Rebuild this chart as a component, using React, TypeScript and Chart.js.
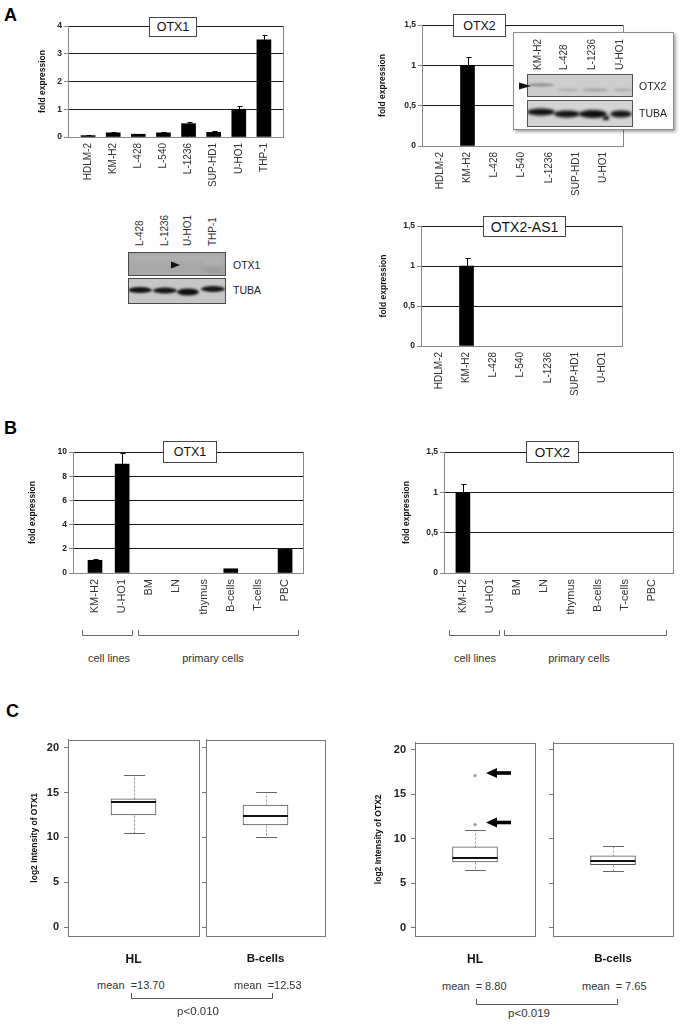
import React, { useEffect, useRef } from 'react';
import { Chart, registerables } from 'chart.js';

Chart.register(...registerables);

const FONT = "'Liberation Sans', Arial, Helvetica, sans-serif";
Chart.defaults.font.family = FONT;

// ---------------- data ----------------
const aOtx1Labels = ['HDLM-2', 'KM-H2', 'L-428', 'L-540', 'L-1236', 'SUP-HD1', 'U-HO1', 'THP-1'];
const aOtx1Values = [0.05, 0.15, 0.1, 0.15, 0.48, 0.17, 1.0, 3.5];
const aOtx1Errors = [0.02, 0.03, 0.02, 0.03, 0.07, 0.03, 0.12, 0.17];
const aOtx1TickValues = [0, 1, 2, 3, 4];
const aOtx1TickLabels = ['0', '1', '2', '3', '4'];

const aOtx2Labels = ['HDLM-2', 'KM-H2', 'L-428', 'L-540', 'L-1236', 'SUP-HD1', 'U-HO1'];
const aOtx2Values = [0, 1.0, 0, 0, 0, 0, 0];
const aOtx2Errors = [0, 0.1, 0, 0, 0, 0, 0];
const aAs1Values = [0, 1.0, 0, 0, 0, 0, 0];
const aAs1Errors = [0, 0.1, 0, 0, 0, 0, 0];
const halfTickValues = [0, 0.5, 1, 1.5];
const halfTickLabels = ['0', '0,5', '1', '1,5'];

const bLabels = ['KM-H2', 'U-HO1', 'BM', 'LN', 'thymus', 'B-cells', 'T-cells', 'PBC'];
const bOtx1Values = [1.05, 9.0, 0, 0, 0, 0.35, 0, 1.95];
const bOtx1Errors = [0.12, 0.9, 0, 0, 0, 0, 0, 0.05];
const bOtx1TickValues = [0, 2, 4, 6, 8, 10];
const bOtx1TickLabels = ['0', '2', '4', '6', '8', '10'];
const bOtx2Values = [1.0, 0, 0, 0, 0, 0, 0, 0];
const bOtx2Errors = [0.1, 0, 0, 0, 0, 0, 0, 0];

const boxTickValues = [0, 5, 10, 15, 20];
const boxTickLabels = ['0', '5', '10', '15', '20'];
// [lower whisker, Q1, median, Q3, upper whisker]
const cOtx1HL = [10.5, 12.5, 13.9, 14.3, 16.9];
const cOtx1B = [10.0, 11.4, 12.4, 13.6, 15.1];
const cOtx2HL = [6.5, 7.4, 7.9, 9.1, 11.0];
const cOtx2HLOutliers = [11.6, 17.1];
const cOtx2B = [6.35, 7.1, 7.55, 8.1, 9.2];

const blotOtx1Lanes = ['L-428', 'L-1236', 'U-HO1', 'THP-1'];
const blotOtx2Lanes = ['KM-H2', 'L-428', 'L-1236', 'U-HO1'];

// ---------------- helpers ----------------
type Area = { l: number; t: number; r: number; b: number };
type Geo = { left: number; top: number; width: number; height: number; yAxisW: number; padTop: number; padRight: number; xAxisH: number };

function makeGeo(area: Area, left: number, xAxisH: number, padTop = 10, padRight = 8): Geo {
  const top = area.t - padTop;
  return { left, top, width: area.r + padRight - left, height: area.b + xAxisH - top, yAxisW: area.l - left, padTop, padRight, xAxisH };
}

const errorBarPlugin = (values: number[], errors: number[]) => ({
  id: 'errorBars',
  afterDatasetsDraw(chart: any) {
    const xs = chart.scales.x;
    const ys = chart.scales.y;
    const ctx = chart.ctx;
    ctx.save();
    ctx.strokeStyle = '#000';
    ctx.lineWidth = 1;
    values.forEach((v, i) => {
      const e = errors[i];
      if (!e) return;
      const x = Math.round(xs.getPixelForValue(i)) + 0.5;
      const y0 = ys.getPixelForValue(v);
      const y1 = Math.round(ys.getPixelForValue(v + e)) + 0.5;
      ctx.beginPath();
      ctx.moveTo(x, y0);
      ctx.lineTo(x, y1);
      ctx.moveTo(x - 2, y1);
      ctx.lineTo(x + 3, y1);
      ctx.stroke();
    });
    ctx.restore();
  },
});

const rightEdgePlugin = {
  id: 'rightEdge',
  afterDraw(chart: any) {
    const { ctx, chartArea: a } = chart;
    ctx.save();
    ctx.strokeStyle = '#888';
    ctx.lineWidth = 1;
    const x = Math.round(a.right) + 0.5;
    ctx.beginPath();
    ctx.moveTo(x, a.top);
    ctx.lineTo(x, a.bottom);
    ctx.stroke();
    ctx.restore();
  },
};

const framePlugin = {
  id: 'frame',
  afterDraw(chart: any) {
    const { ctx, chartArea: a } = chart;
    ctx.save();
    ctx.strokeStyle = '#777';
    ctx.lineWidth = 1;
    ctx.strokeRect(Math.round(a.left) + 0.5, Math.round(a.top) + 0.5, Math.round(a.right - a.left), Math.round(a.bottom - a.top));
    ctx.restore();
  },
};

const boxPartsPlugin = (stats: number[]) => ({
  id: 'boxParts',
  afterDatasetsDraw(chart: any) {
    const el: any = chart.getDatasetMeta(0).data[0];
    const ys = chart.scales.y;
    const ctx = chart.ctx;
    const [mn, q1, md, q3, mx] = stats;
    const x = Math.round(el.x) + 0.5;
    const half = el.width / 2;
    const cap = half * 0.47;
    const py = (v: number) => Math.round(ys.getPixelForValue(v)) + 0.5;
    const line = (x1: number, y1: number, x2: number, y2: number) => {
      ctx.beginPath();
      ctx.moveTo(x1, y1);
      ctx.lineTo(x2, y2);
      ctx.stroke();
    };
    ctx.save();
    ctx.lineWidth = 1;
    ctx.strokeStyle = '#8c8c8c';
    ctx.setLineDash([2, 2]);
    line(x, py(q3), x, py(mx));
    line(x, py(q1), x, py(mn));
    ctx.setLineDash([]);
    ctx.strokeStyle = '#666';
    line(x - cap, py(mx), x + cap, py(mx));
    line(x - cap, py(mn), x + cap, py(mn));
    ctx.strokeStyle = '#111';
    ctx.lineWidth = 2;
    const ym = Math.round(ys.getPixelForValue(md));
    line(el.x - half, ym, el.x + half, ym);
    ctx.restore();
  },
});

interface BarSpec {
  labels: string[];
  values: number[];
  errors: number[];
  tickValues: number[];
  tickLabels: string[];
  xMin: number;
  xMax: number;
  labelSize: number;
}

function buildBar(canvas: HTMLCanvasElement, s: BarSpec, g: Geo) {
  // zero-valued samples have no visible bar in the figure
  const data = s.values.map((v, i) => ({ x: i, y: v === 0 ? null : v }));
  return new Chart(canvas, {
    type: 'bar',
    data: { datasets: [{ data, backgroundColor: '#000', borderWidth: 0, barThickness: 14 } as any] },
    options: {
      responsive: false,
      animation: false,
      devicePixelRatio: 1,
      layout: { padding: { left: 0, top: g.padTop, right: g.padRight, bottom: 0 } },
      plugins: { legend: { display: false }, tooltip: { enabled: false }, title: { display: false } },
      scales: {
        x: {
          type: 'linear',
          min: s.xMin,
          max: s.xMax,
          offset: false,
          afterBuildTicks: (sc: any) => {
            sc.ticks = s.labels.map((_, i) => ({ value: i }));
          },
          afterFit: (sc: any) => {
            sc.height = g.xAxisH;
          },
          grid: { display: false, drawTicks: false, offset: false },
          border: { display: true, color: '#888' },
          ticks: {
            autoSkip: false,
            minRotation: 90,
            maxRotation: 90,
            padding: 6,
            color: '#333',
            font: { size: s.labelSize, family: FONT },
            callback: (v: any) => s.labels[v] ?? '',
          },
        } as any,
        y: {
          min: 0,
          max: s.tickValues[s.tickValues.length - 1],
          afterBuildTicks: (sc: any) => {
            sc.ticks = s.tickValues.map((v) => ({ value: v }));
          },
          afterFit: (sc: any) => {
            sc.width = g.yAxisW;
          },
          grid: {
            color: (c: any) => (c.tick && c.tick.value === 0 ? 'rgba(0,0,0,0)' : '#1c1c1c'),
            tickColor: '#888',
            tickLength: 4,
          },
          border: { display: true, color: '#888' },
          ticks: {
            padding: 2,
            color: '#222',
            font: { size: 8.5, weight: 'bold', family: FONT },
            callback: (_v: any, i: number) => s.tickLabels[i],
          },
          title: {
            display: true,
            text: 'fold expression',
            color: '#111',
            font: { size: 8.5, weight: 'bold', family: FONT },
            padding: { top: 2, bottom: 0 },
          },
        } as any,
      },
    },
    plugins: [errorBarPlugin(s.values, s.errors), rightEdgePlugin],
  });
}

interface BoxSpec {
  name: string;
  stats: number[];
  outliers: number[];
  yMin: number;
  yMax: number;
  showLabels: boolean;
  title?: string;
  nameSize: number;
}

function buildBox(canvas: HTMLCanvasElement, s: BoxSpec, g: Geo) {
  return new Chart(canvas, {
    type: 'bar',
    data: {
      labels: [s.name],
      datasets: [
        {
          type: 'bar',
          data: [[s.stats[1], s.stats[3]]],
          backgroundColor: '#fff',
          borderColor: '#555',
          borderWidth: 1,
          borderSkipped: false,
          barThickness: 45,
          order: 2,
        } as any,
        {
          type: 'line',
          data: s.outliers.map((v) => ({ x: s.name, y: v })),
          showLine: false,
          pointRadius: 1.7,
          pointBackgroundColor: '#9a9a9a',
          pointBorderWidth: 0,
          order: 1,
        } as any,
      ],
    },
    options: {
      responsive: false,
      animation: false,
      devicePixelRatio: 1,
      layout: { padding: { left: 0, top: g.padTop, right: g.padRight, bottom: 0 } },
      plugins: { legend: { display: false }, tooltip: { enabled: false }, title: { display: false } },
      scales: {
        x: {
          type: 'category',
          offset: true,
          afterFit: (sc: any) => {
            sc.height = g.xAxisH;
          },
          grid: { display: false, drawTicks: false },
          border: { display: false },
          ticks: { padding: 16, color: '#111', font: { size: s.nameSize, weight: 'bold', family: FONT } },
        } as any,
        y: {
          min: s.yMin,
          max: s.yMax,
          afterBuildTicks: (sc: any) => {
            sc.ticks = boxTickValues.map((v) => ({ value: v }));
          },
          afterFit: (sc: any) => {
            sc.width = g.yAxisW;
          },
          grid: { drawOnChartArea: false, drawTicks: true, tickLength: 4, tickColor: '#777', color: '#777' },
          border: { display: true, color: '#777' },
          ticks: {
            padding: 5,
            color: '#222',
            font: { size: 11, weight: 'bold', family: FONT },
            callback: (_v: any, i: number) => (s.showLabels ? boxTickLabels[i] : ''),
          },
          title: {
            display: !!s.title,
            text: s.title || '',
            color: '#111',
            font: { size: 8.5, weight: 'bold', family: FONT },
            padding: { top: 2, bottom: 0 },
          },
        } as any,
      },
    },
    plugins: [boxPartsPlugin(s.stats), framePlugin],
  });
}

function ChartCanvas({ g, build }: { g: Geo; build: (c: HTMLCanvasElement) => Chart }) {
  const ref = useRef<HTMLCanvasElement>(null);
  useEffect(() => {
    if (!ref.current) return;
    const chart = build(ref.current);
    return () => chart.destroy();
  }, []);
  return (
    <canvas
      ref={ref}
      width={g.width}
      height={g.height}
      style={{ position: 'absolute', left: g.left, top: g.top, width: g.width, height: g.height, zIndex: 0 }}
    />
  );
}

function BlotCanvas({ x, y, w, h, draw }: { x: number; y: number; w: number; h: number; draw: (ctx: CanvasRenderingContext2D) => void }) {
  const ref = useRef<HTMLCanvasElement>(null);
  useEffect(() => {
    const c = ref.current;
    if (!c) return;
    const ctx = c.getContext('2d');
    if (!ctx) return;
    ctx.clearRect(0, 0, w, h);
    draw(ctx);
  }, []);
  return <canvas ref={ref} width={w} height={h} style={{ position: 'absolute', left: x, top: y, width: w, height: h, zIndex: 2 }} />;
}

function band(ctx: CanvasRenderingContext2D, cx: number, cy: number, w: number, h: number, color: string) {
  ctx.fillStyle = color;
  ctx.beginPath();
  ctx.ellipse(cx, cy, w / 2, h / 2, 0, 0, Math.PI * 2);
  ctx.fill();
}

function drawOtx1Blot(ctx: CanvasRenderingContext2D) {
  ctx.fillStyle = '#a8a8a8';
  ctx.fillRect(0, 0, 98, 24);
  ctx.filter = 'blur(2px)';
  ctx.fillStyle = 'rgba(255,255,255,0.10)';
  ctx.fillRect(2, 2, 94, 7);
  band(ctx, 86, 11, 22, 3, 'rgba(255,255,255,0.18)');
  band(ctx, 86, 18, 22, 4, 'rgba(60,60,60,0.18)');
  ctx.filter = 'none';
  ctx.strokeStyle = '#4a4a4a';
  ctx.lineWidth = 1;
  ctx.strokeRect(0.5, 0.5, 97, 23);
  ctx.fillStyle = '#c6c6c6';
  ctx.fillRect(0, 26, 98, 26);
  ctx.filter = 'blur(1.3px)';
  band(ctx, 12, 38, 24, 6, '#121212');
  band(ctx, 37, 38.5, 24, 6, '#151515');
  band(ctx, 60, 40, 22, 7, '#101010');
  band(ctx, 85, 37, 24, 6, '#161616');
  ctx.filter = 'none';
  ctx.strokeRect(0.5, 26.5, 97, 25);
}

function drawOtx2Blot(ctx: CanvasRenderingContext2D) {
  ctx.fillStyle = '#cdcdcd';
  ctx.fillRect(0, 0, 106, 23);
  ctx.filter = 'blur(1.2px)';
  band(ctx, 14, 11, 26, 3, '#8a8a8a');
  band(ctx, 41, 16, 22, 3, '#b0b0b0');
  band(ctx, 68, 16, 26, 3.5, '#a6a6a6');
  band(ctx, 96, 16, 20, 3, '#acacac');
  ctx.filter = 'none';
  ctx.strokeStyle = '#555';
  ctx.lineWidth = 1;
  ctx.strokeRect(0.5, 0.5, 105, 22);
  ctx.fillStyle = '#d4d4d4';
  ctx.fillRect(0, 26, 106, 27);
  ctx.filter = 'blur(1.4px)';
  band(ctx, 14, 38, 28, 7, '#101010');
  band(ctx, 40, 40, 26, 7, '#121212');
  band(ctx, 66, 40, 28, 8, '#0e0e0e');
  band(ctx, 94, 40, 22, 7, '#141414');
  ctx.fillStyle = '#111';
  ctx.fillRect(76, 42, 6, 4);
  ctx.filter = 'none';
  ctx.strokeRect(0.5, 26.5, 105, 26);
}

function Txt({ x, y, size, children, bold = false, align = 'left', color = '#222', z = 3 }: any) {
  const style: React.CSSProperties = {
    position: 'absolute',
    top: y - size / 2,
    left: x,
    fontSize: size,
    lineHeight: `${size}px`,
    fontFamily: FONT,
    fontWeight: bold ? 700 : 400,
    color,
    whiteSpace: 'pre',
    zIndex: z,
  };
  if (align === 'center') style.transform = 'translateX(-50%)';
  return <div style={style}>{children}</div>;
}

function VLabel({ cx, bottom, size, text }: { cx: number; bottom: number; size: number; text: string }) {
  return (
    <div
      style={{
        position: 'absolute',
        left: cx - size / 2,
        top: bottom,
        fontSize: size,
        lineHeight: `${size}px`,
        fontFamily: FONT,
        color: '#333',
        whiteSpace: 'nowrap',
        transform: 'rotate(-90deg)',
        transformOrigin: 'left top',
        zIndex: 3,
      }}
    >
      {text}
    </div>
  );
}

function TitleBox({ l, t, w, h, size, text }: { l: number; t: number; w: number; h: number; size: number; text: string }) {
  return (
    <div
      style={{
        position: 'absolute',
        left: l,
        top: t,
        width: w,
        height: h,
        boxSizing: 'border-box',
        border: '1px solid #444',
        background: '#fff',
        display: 'flex',
        alignItems: 'center',
        justifyContent: 'center',
        fontFamily: FONT,
        fontSize: size,
        color: '#111',
        zIndex: 1,
      }}
    >
      {text}
    </div>
  );
}

// ---------------- geometry ----------------
const gA1 = makeGeo({ l: 68, t: 26, r: 283, b: 137 }, 36, 60);
const gA2 = makeGeo({ l: 422, t: 25, r: 623, b: 146 }, 376, 60);
const gA3 = makeGeo({ l: 421, t: 226, r: 622, b: 346 }, 377, 60);
const gB1 = makeGeo({ l: 73, t: 452, r: 303, b: 573 }, 26, 55);
const gB2 = makeGeo({ l: 444, t: 452, r: 673, b: 573 }, 400, 55, 10, 6);
const gC1 = makeGeo({ l: 68, t: 738, r: 199, b: 936 }, 28, 40, 10, 5);
const gC2 = makeGeo({ l: 206, t: 738, r: 325, b: 936 }, 200, 40, 10, 5);
const gC3 = makeGeo({ l: 415, t: 741, r: 535, b: 936 }, 372, 40, 10, 5);
const gC4 = makeGeo({ l: 553, t: 741, r: 673, b: 936 }, 547, 40, 10, 5);

export default function App() {
  return (
    <div style={{ position: 'absolute', left: 0, top: 0, width: 680, height: 1027, background: '#fff', overflow: 'hidden', fontFamily: FONT }}>
      <Txt x={4} y={14.5} size={18} bold color="#000">A</Txt>
      <Txt x={4} y={427.5} size={18} bold color="#000">B</Txt>
      <Txt x={6} y={711} size={18} bold color="#000">C</Txt>

      <ChartCanvas
        g={gA1}
        build={(c) =>
          buildBar(c, { labels: aOtx1Labels, values: aOtx1Values, errors: aOtx1Errors, tickValues: aOtx1TickValues, tickLabels: aOtx1TickLabels, xMin: -0.8, xMax: 7.76, labelSize: 10 }, gA1)
        }
      />
      <TitleBox l={149} t={17} w={48} h={20} size={12.5} text="OTX1" />

      <ChartCanvas
        g={gA2}
        build={(c) =>
          buildBar(c, { labels: aOtx2Labels, values: aOtx2Values, errors: aOtx2Errors, tickValues: halfTickValues, tickLabels: halfTickLabels, xMin: -0.68, xMax: 6.74, labelSize: 10 }, gA2)
        }
      />
      <TitleBox l={453} t={14} w={53} h={23} size={12.5} text="OTX2" />

      <div
        style={{
          position: 'absolute',
          left: 513,
          top: 32,
          width: 161,
          height: 98,
          boxSizing: 'border-box',
          border: '1px solid #8a8a8a',
          background: '#fff',
          boxShadow: '2px 2px 3px rgba(0,0,0,0.35)',
          zIndex: 1,
        }}
      />
      <VLabel cx={538} bottom={70} size={10} text={blotOtx2Lanes[0]} />
      <VLabel cx={564} bottom={70} size={10} text={blotOtx2Lanes[1]} />
      <VLabel cx={592} bottom={70} size={10} text={blotOtx2Lanes[2]} />
      <VLabel cx={620} bottom={70} size={10} text={blotOtx2Lanes[3]} />
      <BlotCanvas x={527} y={74} w={106} h={53} draw={drawOtx2Blot} />
      <Txt x={639} y={86} size={10.5} color="#222">OTX2</Txt>
      <Txt x={639} y={113} size={10.5} color="#222">TUBA</Txt>

      <VLabel cx={140} bottom={246} size={10} text={blotOtx1Lanes[0]} />
      <VLabel cx={165} bottom={246} size={10} text={blotOtx1Lanes[1]} />
      <VLabel cx={188} bottom={246} size={10} text={blotOtx1Lanes[2]} />
      <VLabel cx={213} bottom={246} size={10} text={blotOtx1Lanes[3]} />
      <BlotCanvas x={128} y={252} w={98} h={52} draw={drawOtx1Blot} />
      <Txt x={233} y={265} size={10.5} color="#222">OTX1</Txt>
      <Txt x={233} y={290} size={10.5} color="#222">TUBA</Txt>

      <ChartCanvas
        g={gA3}
        build={(c) =>
          buildBar(c, { labels: aOtx2Labels, values: aAs1Values, errors: aAs1Errors, tickValues: halfTickValues, tickLabels: halfTickLabels, xMin: -0.68, xMax: 6.74, labelSize: 10 }, gA3)
        }
      />
      <TitleBox l={483} t={216} w={83} h={21} size={14} text="OTX2-AS1" />

      <ChartCanvas
        g={gB1}
        build={(c) =>
          buildBar(c, { labels: bLabels, values: bOtx1Values, errors: bOtx1Errors, tickValues: bOtx1TickValues, tickLabels: bOtx1TickLabels, xMin: -0.81, xMax: 7.66, labelSize: 11 }, gB1)
        }
      />
      <TitleBox l={163} t={441} w={54} h={22} size={12.5} text="OTX1" />
      <ChartCanvas
        g={gB2}
        build={(c) =>
          buildBar(c, { labels: bLabels, values: bOtx2Values, errors: bOtx2Errors, tickValues: halfTickValues, tickLabels: halfTickLabels, xMin: -0.7, xMax: 7.78, labelSize: 11 }, gB2)
        }
      />
      <TitleBox l={526} t={441} w={53} h={22} size={13.5} text="OTX2" />

      <Txt x={109} y={658} size={11} align="center" color="#333">cell lines</Txt>
      <Txt x={213} y={658} size={11} align="center" color="#333">primary cells</Txt>
      <Txt x={475} y={658} size={11} align="center" color="#333">cell lines</Txt>
      <Txt x={579} y={658} size={11} align="center" color="#333">primary cells</Txt>

      <ChartCanvas
        g={gC1}
        build={(c) =>
          buildBox(c, { name: 'HL', stats: cOtx1HL, outliers: [], yMin: -1.0, yMax: 20.9, showLabels: true, title: 'log2 Intensity of OTX1', nameSize: 12 }, gC1)
        }
      />
      <ChartCanvas
        g={gC2}
        build={(c) => buildBox(c, { name: 'B-cells', stats: cOtx1B, outliers: [], yMin: -1.0, yMax: 20.9, showLabels: false, nameSize: 11.5 }, gC2)}
      />
      <ChartCanvas
        g={gC3}
        build={(c) =>
          buildBox(c, { name: 'HL', stats: cOtx2HL, outliers: cOtx2HLOutliers, yMin: -0.9, yMax: 20.8, showLabels: true, title: 'log2 Intensity of OTX2', nameSize: 12 }, gC3)
        }
      />
      <ChartCanvas
        g={gC4}
        build={(c) => buildBox(c, { name: 'B-cells', stats: cOtx2B, outliers: [], yMin: -0.9, yMax: 20.8, showLabels: false, nameSize: 11.5 }, gC4)}
      />

      <Txt x={97} y={985} size={11} color="#333">{'mean  =13.70'}</Txt>
      <Txt x={234} y={985} size={11} color="#333">{'mean  =12.53'}</Txt>
      <Txt x={198} y={1012} size={11.5} align="center" color="#333">p&lt;0.010</Txt>
      <Txt x={442} y={986} size={11} color="#333">{'mean  = 8.80'}</Txt>
      <Txt x={582} y={986} size={11} color="#333">{'mean  = 7.65'}</Txt>
      <Txt x={529} y={1014} size={11.5} align="center" color="#333">p&lt;0.019</Txt>

      <svg width={680} height={1027} style={{ position: 'absolute', left: 0, top: 0, pointerEvents: 'none', zIndex: 4 }}>
        <polygon points="171,261.5 180,265 171,268.5" fill="#111" />
        <polygon points="519,82.5 531,86 519,89.5" fill="#111" />
        <path d="M82.5 630 V635.5 H132.5 V630" stroke="#666" fill="none" />
        <path d="M138.5 630 V635.5 H298.5 V630" stroke="#666" fill="none" />
        <path d="M449.5 630 V635.5 H499.5 V630" stroke="#666" fill="none" />
        <path d="M504.5 630 V635.5 H666.5 V630" stroke="#666" fill="none" />
        <path d="M131.5 993 V998.5 H272.5 V993" stroke="#555" fill="none" />
        <path d="M476.5 999 V1004.5 H617.5 V999" stroke="#555" fill="none" />
        <polygon points="486,773 497,768 497,778" fill="#000" />
        <rect x={496} y={771.2} width={15} height={3.6} fill="#000" />
        <polygon points="486,822.5 497,817.5 497,827.5" fill="#000" />
        <rect x={496} y={820.7} width={15} height={3.6} fill="#000" />
      </svg>
    </div>
  );
}
